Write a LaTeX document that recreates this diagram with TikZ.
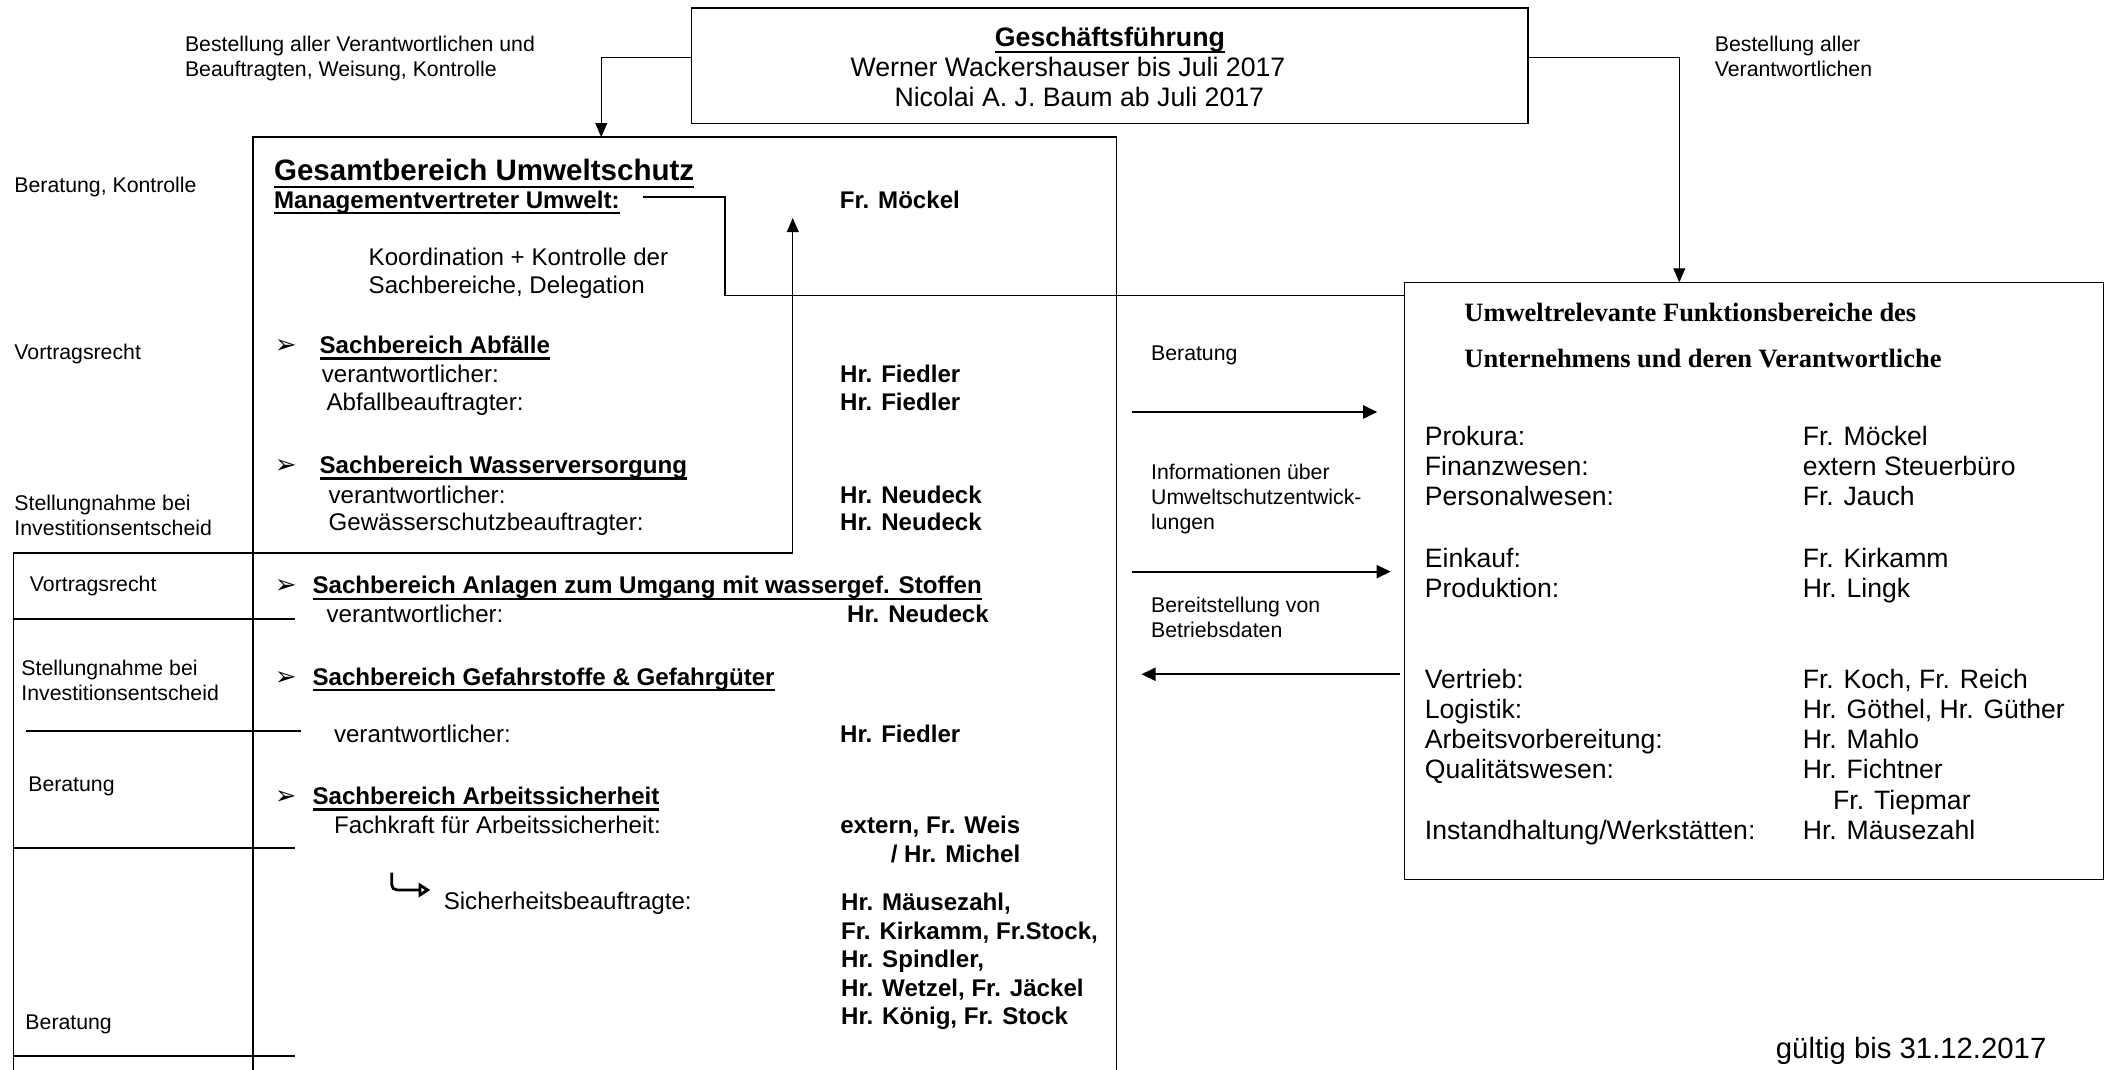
\documentclass[tikz,border=0pt]{standalone}
\usepackage{fontspec}
\setmainfont{Liberation Sans}
\newfontfamily\timesfont{Liberation Serif}
\newfontfamily\dejavu{DejaVu Sans}
\usetikzlibrary{arrows.meta, positioning, calc}
\newlength\pxu
\setlength\pxu{0.02cm}
\newsavebox\ulnbox
\newcommand\uln[1]{\leavevmode\sbox\ulnbox{#1}\rlap{\rule[-0.24em]{\wd\ulnbox}{0.9pt}}\usebox\ulnbox}

\tikzset{
  box/.style={draw, line width=0.6pt, inner sep=0pt, outer sep=0pt},
  lbl/.style={anchor=base west, inner sep=0pt, font=\fontsize{9}{10.6}\selectfont},
  lbltwo/.style={lbl, anchor=north west, align=left},
  txt/.style={anchor=base west, inner sep=0pt, font=\fontsize{10.2}{11.7}\selectfont},
  txtb/.style={txt, font=\fontsize{10.2}{12.06}\selectfont\bfseries},
  bul/.style={anchor=base west, inner sep=0pt, font=\dejavu\bfseries\fontsize{11}{11}\selectfont},
  gftxt/.style={anchor=base west, inner sep=0pt, font=\fontsize{11.3}{13}\selectfont},
  lst/.style={anchor=north west, inner sep=0pt, align=left, font=\fontsize{11.25}{12.8}\selectfont},
  ttl/.style={anchor=base west, inner sep=0pt, font=\timesfont\bfseries\fontsize{11.2}{13}\selectfont},
  arr/.style={line width=0.6pt, -{Triangle[length=6pt,width=5pt]}},
  arrb/.style={line width=0.9pt, -{Triangle[length=6pt,width=5.5pt]}},
  conn/.style={line width=0.6pt},
  sepline/.style={line width=0.9pt},
}

\begin{document}
\begin{tikzpicture}[x=0.02cm, y=-0.02cm]
  \useasboundingbox (0,0) rectangle (1568,795);

  % boxes
  \node[box, minimum width=622\pxu, minimum height=86\pxu] (gf) at (825,49) {};
  \node[box, minimum width=642\pxu, minimum height=720\pxu] (ges) at (509,462) {};
  \node[box, minimum width=520\pxu, minimum height=444\pxu] (fkt) at (1304,432) {};

  % Geschaeftsfuehrung
  \node[gftxt, anchor=base, font=\fontsize{11.3}{13}\selectfont\bfseries] (gft) at (825.2,34.5) {\uln{Geschäftsführung}};
  \node[gftxt] (gfww) at (632,56.8) {Werner Wackershauser bis Juli 2017};
  \node[gftxt] (gfnb) at (664.7,79.1) {Nicolai A. J. Baum ab Juli 2017};

  \node[lbltwo] (bestl) at (137.2,26.6) {Bestellung aller Verantwortlichen und\\Beauftragten, Weisung, Kontrolle};
  \node[lbltwo] (bestr) at (1274.6,26.6) {Bestellung aller\\Verantwortlichen};

  \coordinate (gesin) at (447,102);
  \coordinate (fktin) at (1248.5,210);
  \draw[arr] ([yshift=6.4\pxu]gf.west) -| (gesin);
  \draw[arr] ([yshift=6.4\pxu]gf.east) -| (fktin);

  % left column
  \node[lbl] (berk) at (10.4,143.2) {Beratung, Kontrolle};
  \node[lbl] (vor1) at (10.4,267.2) {Vortragsrecht};
  \node[lbltwo] (stn1) at (10.4,367.4) {Stellungnahme bei\\Investitionsentscheid};
  \node[lbl] (vor2) at (21.9,439.4) {Vortragsrecht};
  \node[lbltwo] (stn2) at (15.6,490.1) {Stellungnahme bei\\Investitionsentscheid};
  \node[lbl] (ber1) at (20.7,588.1) {Beratung};
  \node[lbl] (ber2) at (18.6,765.3) {Beratung};

  \coordinate (lcbot) at (10,800);
  \coordinate (lctop) at (589.4,411);
  \coordinate (mvup) at (589.4,162);
  \draw[arr] (lcbot) |- (lctop) -- (mvup);
  \draw[sepline] (9.4,460) -- (219,460);
  \draw[sepline] (19,543.5) -- (223.6,543.5);
  \draw[sepline] (9.8,630.7) -- (219,630.7);
  \draw[sepline] (9.4,785) -- (219.3,785);

  % Gesamtbereich
  \node[txtb, font=\fontsize{12.5}{14}\selectfont\bfseries] (gesh) at (203.4,134.3) {\uln{Gesamtbereich Umweltschutz}};
  \node[txtb] (mv) at (203.4,154.7) {\uln{Managementvertreter Umwelt:}};
  \node[txtb] (mvn) at (624,154.7) {Fr. Möckel};
  \node[txt, anchor=north west, align=left] (koord) at (273.8,184.4) {Koordination + Kontrolle der\\Sachbereiche, Delegation};

  \coordinate (mvbend) at (539,219.8);
  \draw[conn] ([xshift=17\pxu,yshift=4\pxu]mv.east) -| (mvbend) -- (mvbend -| fkt.west);

  % Sachbereiche
  \node[bul] (bu1) at (204,263) {➢};
  \node[txtb] (sb1) at (237.3,263) {\uln{Sachbereich Abfälle}};
  \node[txt] (v1) at (239,284.1) {verantwortlicher:};
  \node[txtb] (v1n) at (624.3,284.1) {Hr. Fiedler};
  \node[txt] (ab1) at (242.5,305.1) {Abfallbeauftragter:};
  \node[txtb] (ab1n) at (624.3,305.1) {Hr. Fiedler};

  \node[bul] (bu2) at (204,352.2) {➢};
  \node[txtb] (sb2) at (237.3,352.2) {\uln{Sachbereich Wasserversorgung}};
  \node[txt] (v2) at (244,374.5) {verantwortlicher:};
  \node[txtb] (v2n) at (624.3,374.5) {Hr. Neudeck};
  \node[txt] (gw2) at (244,394.3) {Gewässerschutzbeauftragter:};
  \node[txtb] (gw2n) at (624.3,394.3) {Hr. Neudeck};

  \node[bul] (bu3) at (204,441.5) {➢};
  \node[txtb] (sb3) at (232,441.5) {\uln{Sachbereich Anlagen zum Umgang mit wassergef. Stoffen}};
  \node[txt] (v3) at (242.5,462.5) {verantwortlicher:};
  \node[txtb] (v3n) at (629.5,462.5) {Hr. Neudeck};

  \node[bul] (bu4) at (204,509.5) {➢};
  \node[txtb] (sb4) at (232,509.5) {\uln{Sachbereich Gefahrstoffe \& Gefahrgüter}};
  \node[txt] (v4) at (248,551.7) {verantwortlicher:};
  \node[txtb] (v4n) at (624.3,551.7) {Hr. Fiedler};

  \node[bul] (bu5) at (204,598.3) {➢};
  \node[txtb] (sb5) at (232,598.3) {\uln{Sachbereich Arbeitssicherheit}};
  \node[txt] (fk5) at (248,619.5) {Fachkraft für Arbeitssicherheit:};
  \node[txtb] (fk5n) at (624.4,619.5) {extern, Fr. Weis};
  \node[txtb, anchor=base east] (fk5m) at ($(fk5n.base east)+(0,22)$) {/ Hr. Michel};

  \draw[line width=1.2pt, rounded corners=4\pxu, -{Triangle[open,length=5pt,width=6pt]}] (291.2,648.8) |- (320,661.7);
  \node[txt] (sib) at (329.6,676.5) {Sicherheitsbeauftragte:};
  \node[txtb, anchor=north west, align=left] (sibn) at (625,663.6) {Hr. Mäusezahl,\\Fr. Kirkamm, Fr.Stock,\\Hr. Spindler,\\Hr. Wetzel, Fr. Jäckel\\Hr. König, Fr. Stock};

  % between the boxes
  \node[lbl] (lberat) at (855.5,267.9) {Beratung};
  \node[lbltwo] (linfo) at (855.5,344.8) {Informationen über\\Umweltschutzentwick-\\lungen};
  \node[lbltwo] (lbetr) at (855.5,443.8) {Bereitstellung von\\Betriebsdaten};
  \coordinate (a1) at (841.6,306.3);
  \coordinate (a2) at (841.6,425);
  \coordinate (a3) at (848.6,501.3);
  \draw[arrb, shorten >=20\pxu] (a1) -- (a1 -| fkt.west);
  \draw[arrb, shorten >=10\pxu] (a2) -- (a2 -| fkt.west);
  \draw[arrb, shorten <=3.4\pxu] (a3 -| fkt.west) -- (a3);

  % Funktionsbereiche
  \node[ttl] (ft1) at (1088.4,238.8) {Umweltrelevante Funktionsbereiche des};
  \node[ttl] (ft2) at (1088.4,273.5) {Unternehmens und deren Verantwortliche};
  \node[lst] (fa) at (1059,316.4) {Prokura:\\Finanzwesen:\\Personalwesen:};
  \node[lst] (fan) at (1340,316.4) {Fr. Möckel\\extern Steuerbüro\\Fr. Jauch};
  \node[lst] (fb) at (1059,406.9) {Einkauf:\\Produktion:};
  \node[lst] (fbn) at (1340,406.9) {Fr. Kirkamm\\Hr. Lingk};
  \node[lst] (fc) at (1059,497) {Vertrieb:\\Logistik:\\Arbeitsvorbereitung:\\Qualitätswesen:\\[12.8pt]Instandhaltung/Werkstätten:};
  \node[lst] (fcn) at (1340,497) {Fr. Koch, Fr. Reich\\Hr. Göthel, Hr. Güther\\Hr. Mahlo\\Hr. Fichtner\\\hspace*{22.6\pxu}Fr. Tiepmar\\Hr. Mäusezahl};

  \node[anchor=base west, inner sep=0pt, font=\fontsize{12.4}{14}\selectfont] (gueltig) at (1320,786.9) {gültig bis 31.12.2017};
\end{tikzpicture}
\end{document}
